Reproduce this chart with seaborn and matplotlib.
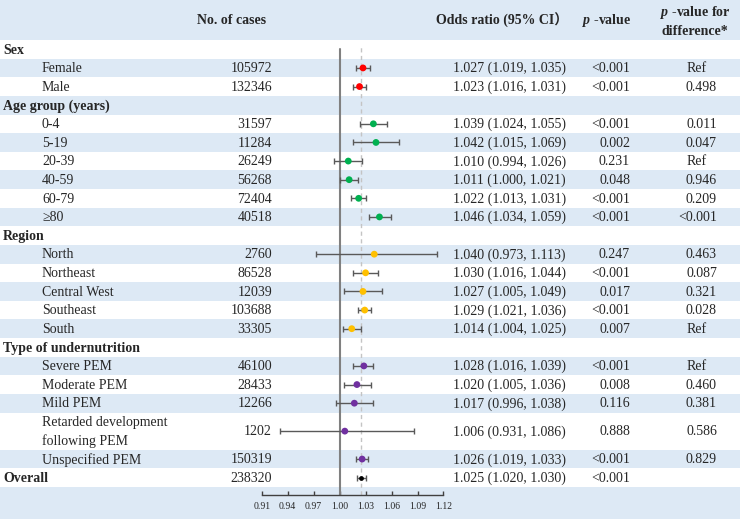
import matplotlib
matplotlib.use("Agg")
from matplotlib import pyplot as plt
import seaborn as sns
import pandas as pd

sex_labels = ["Female", "Male"]
sex_cases = [105972, 132346]
sex_or = [1.027, 1.023]
sex_lo = [1.019, 1.016]
sex_hi = [1.035, 1.031]
sex_p = ["<0.001", "<0.001"]
sex_pdiff = ["Ref", "0.498"]

age_labels = ["0-4", "5-19", "20-39", "40-59", "60-79", "≥80"]
age_cases = [31597, 11284, 26249, 56268, 72404, 40518]
age_or = [1.039, 1.042, 1.010, 1.011, 1.022, 1.046]
age_lo = [1.024, 1.015, 0.994, 1.000, 1.013, 1.034]
age_hi = [1.055, 1.069, 1.026, 1.021, 1.031, 1.059]
age_p = ["<0.001", "0.002", "0.231", "0.048", "<0.001", "<0.001"]
age_pdiff = ["0.011", "0.047", "Ref", "0.946", "0.209", "<0.001"]

region_labels = ["North", "Northeast", "Central West", "Southeast", "South"]
region_cases = [2760, 86528, 12039, 103688, 33305]
region_or = [1.040, 1.030, 1.027, 1.029, 1.014]
region_lo = [0.973, 1.016, 1.005, 1.021, 1.004]
region_hi = [1.113, 1.044, 1.049, 1.036, 1.025]
region_p = ["0.247", "<0.001", "0.017", "<0.001", "0.007"]
region_pdiff = ["0.463", "0.087", "0.321", "0.028", "Ref"]

type_labels = ["Severe PEM", "Moderate PEM", "Mild PEM",
               "Retarded development\nfollowing PEM", "Unspecified PEM"]
type_cases = [46100, 28433, 12266, 1202, 150319]
type_or = [1.028, 1.020, 1.017, 1.006, 1.026]
type_lo = [1.016, 1.005, 0.996, 0.931, 1.019]
type_hi = [1.039, 1.036, 1.038, 1.086, 1.033]
type_p = ["<0.001", "0.008", "0.116", "0.888", "<0.001"]
type_pdiff = ["Ref", "0.460", "0.381", "0.586", "0.829"]

overall_cases = 238320
overall_or = 1.025
overall_lo = 1.020
overall_hi = 1.030
overall_p = "<0.001"

group_names = ["Sex", "Age group (years)", "Region", "Type of undernutrition"]
group_colors = ["#ff0000", "#00b050", "#ffc000", "#7030a0"]
x_ticks = [0.91, 0.94, 0.97, 1.00, 1.03, 1.06, 1.09, 1.12]

groups = [
    (sex_labels, sex_cases, sex_or, sex_lo, sex_hi, sex_p, sex_pdiff),
    (age_labels, age_cases, age_or, age_lo, age_hi, age_p, age_pdiff),
    (region_labels, region_cases, region_or, region_lo, region_hi, region_p, region_pdiff),
    (type_labels, type_cases, type_or, type_lo, type_hi, type_p, type_pdiff),
]

# ---- layout (pixels, y down) ----
W, H = 740, 519
HEAD = 40
ROW = 18.625
AXIS_Y = 495
BAND = "#dde9f5"

sns.set_style("white")
plt.rcParams["font.family"] = ["Liberation Serif", "Noto Sans CJK SC"]
plt.rcParams["mathtext.fontset"] = "custom"
plt.rcParams["mathtext.it"] = "Liberation Serif:italic:bold"
plt.rcParams["mathtext.rm"] = "Liberation Serif:bold"

# build the table rows
rows = []
for name, (labs, cases, ors, los, his, ps, pds) in zip(group_names, groups):
    rows.append(dict(kind="head", label=name, h=1))
    for i in range(len(labs)):
        rows.append(dict(kind="sub", label=labs[i], cases=cases[i], est=ors[i],
                         lo=los[i], hi=his[i], p=ps[i], pdiff=pds[i], group=name,
                         h=2 if "\n" in labs[i] else 1))
rows.append(dict(kind="overall", label="Overall", cases=overall_cases, est=overall_or,
                 lo=overall_lo, hi=overall_hi, p=overall_p, pdiff="", group="Overall", h=1))

y = HEAD
for r in rows:
    r["top"] = y
    r["y"] = y + r["h"] * ROW / 2
    y += r["h"] * ROW
table_end = y

fig = plt.figure(figsize=(W / 100, H / 100), dpi=100)
tab = fig.add_axes([0, 0, 1, 1])
tab.set_xlim(0, W)
tab.set_ylim(H, 0)
tab.axis("off")

# alternating bands
tab.axhspan(0, HEAD, color=BAND, lw=0)
for i, r in enumerate(rows, start=1):
    if i % 2 == 0:
        tab.axhspan(r["top"], r["top"] + r["h"] * ROW, color=BAND, lw=0)
if (len(rows) + 1) % 2 == 0:
    tab.axhspan(table_end, H, color=BAND, lw=0)

FS = 10
tab.text(232, 20.5, "No. of cases", ha="center", va="center", fontsize=FS, weight="bold")
tab.text(502, 20.5, "Odds ratio (95% CI）", ha="center", va="center", fontsize=FS, weight="bold")
tab.text(607, 20.5, "$p$ -value", ha="center", va="center", fontsize=FS, weight="bold")
tab.text(695, 21, "$p$ -value for\ndifference*", ha="center", va="center",
         fontsize=FS, weight="bold", linespacing=1.35)

for r in rows:
    yc = r["y"] + 0.8
    if r["kind"] == "head":
        tab.text(3, yc, r["label"], ha="left", va="center", fontsize=FS, weight="bold")
        continue
    if r["kind"] == "overall":
        tab.text(3, yc, r["label"], ha="left", va="center", fontsize=FS, weight="bold")
    else:
        tab.text(42, yc, r["label"], ha="left", va="center", fontsize=FS, linespacing=1.45)
    tab.text(272, yc, str(r["cases"]), ha="right", va="center", fontsize=FS)
    tab.text(453, yc, f"{r['est']:.3f} ({r['lo']:.3f}, {r['hi']:.3f})",
             ha="left", va="center", fontsize=FS)
    tab.text(630, yc, r["p"], ha="right", va="center", fontsize=FS)
    if r["pdiff"] == "Ref":
        tab.text(687, yc, r["pdiff"], ha="left", va="center", fontsize=FS)
    elif r["pdiff"]:
        tab.text(717, yc, r["pdiff"], ha="right", va="center", fontsize=FS)

# ---- forest panel ----
x0, x1 = 261.7, 443.5
fx = fig.add_axes([x0 / W, (H - AXIS_Y) / H, (x1 - x0) / W, (AXIS_Y - HEAD) / H])
fx.patch.set_alpha(0)
fx.set_xlim(x_ticks[0], x_ticks[-1])
fx.set_ylim(AXIS_Y, HEAD)

df = pd.DataFrame([r for r in rows if r["kind"] != "head"])
sub = df[df["kind"] == "sub"]
ov = df[df["kind"] == "overall"]

top_frac = (AXIS_Y - 49) / (AXIS_Y - HEAD)
fx.axvline(1.0, ymin=0, ymax=top_frac, color="#808080", lw=1.5, zorder=1)
fx.axvline(overall_or, ymin=0, ymax=(AXIS_Y - 47) / (AXIS_Y - HEAD),
           color="#c4c4c4", lw=1, ls=(0, (3, 2.5)), zorder=1)

fx.errorbar(df["est"], df["y"], xerr=[df["est"] - df["lo"], df["hi"] - df["est"]],
            fmt="none", ecolor="#595959", elinewidth=1, capsize=2.5, capthick=1, zorder=2)
sns.scatterplot(data=sub, x="est", y="y", hue="group", hue_order=group_names,
                palette=group_colors, s=24, linewidth=0, legend=False, ax=fx, zorder=3)
sns.scatterplot(data=ov, x="est", y="y", color="black", s=12, linewidth=0,
                legend=False, ax=fx, zorder=3)

for side in ["top", "left", "right"]:
    fx.spines[side].set_visible(False)
fx.spines["bottom"].set_color("#404040")
fx.spines["bottom"].set_linewidth(1)
fx.set_yticks([])
fx.set_xticks(x_ticks)
fx.set_xticklabels([f"{t:.2f}" for t in x_ticks])
fx.tick_params(axis="x", direction="in", length=3, width=1, color="#404040",
               labelsize=7, pad=5, bottom=True)
fx.set_xlabel("")
fx.set_ylabel("")

fig.savefig("out.png", dpi=100)
